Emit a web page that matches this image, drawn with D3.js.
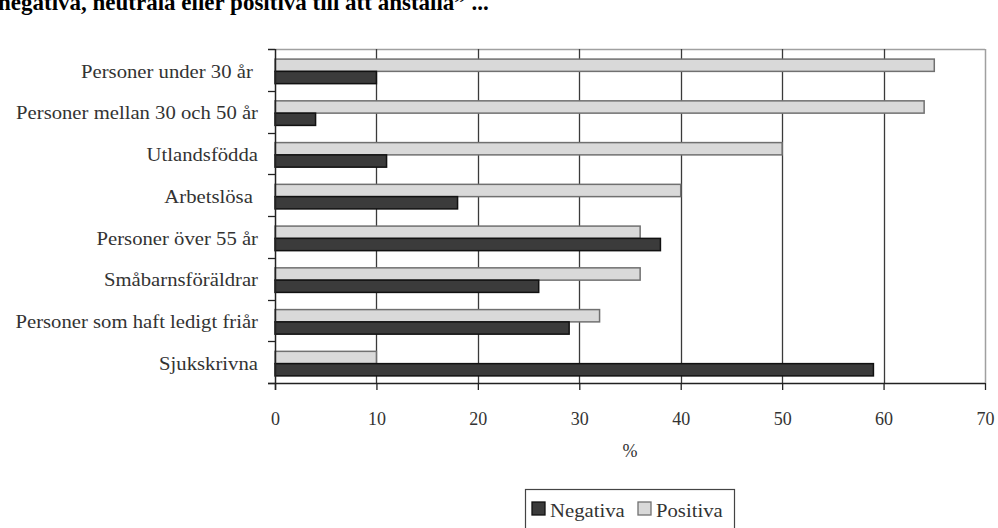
<!DOCTYPE html>
<html>
<head>
<meta charset="utf-8">
<script src="https://cdn.jsdelivr.net/npm/d3@7"></script>
<style>
  html, body { margin: 0; padding: 0; background: #fff; }
  svg { display: block; }
  text { font-family: "Liberation Serif", "Times New Roman", serif; fill: #222; }
</style>
</head>
<body>
<svg id="chart" width="998" height="528"></svg>
<script>
// Andel som är negativa / positiva till att anställa olika grupper (%)
const categories = [
  "Personer under 30 år ",
  "Personer mellan 30 och 50 år",
  "Utlandsfödda",
  "Arbetslösa ",
  "Personer över 55 år",
  "Småbarnsföräldrar",
  "Personer som haft ledigt friår",
  "Sjukskrivna"
];
const negativa = [10, 4, 11, 18, 38, 26, 29, 59];
const positiva = [65, 64, 50, 40, 36, 36, 32, 10];
const seriesNames = ["Positiva", "Negativa"];
const xTicks = [0, 10, 20, 30, 40, 50, 60, 70];
const titleText = "negativa, neutrala eller positiva till att anställa\u201D   ...";
const axisTitle = "%";

const SERIF = "Liberation Serif, Times New Roman, serif";
const STRETCH = 1.09; // glyphs are drawn slightly wide

const svg = d3.select("#chart");
const plot = { left: 275, right: 985, top: 49, bottom: 383 };

const x = d3.scaleLinear().domain([0, 70]).range([plot.left, plot.right]);
const y = d3.scaleBand().domain(categories).range([plot.top, plot.bottom]).padding(0);
const ySub = d3.scaleBand().domain(seriesNames).range([0, y.bandwidth()])
  .paddingInner(0).paddingOuter(0.7);

const fills = { Negativa: "#3b3b3b", Positiva: "#d9d9d9" };
const strokes = { Negativa: "#111", Positiva: "#707070" };

// place a text at (px, py) with a horizontal stretch
function placeText(sel, px, py) {
  sel.attr("x", 0).attr("y", 0)
    .attr("transform", (d, i) => {
      const tx = typeof px === "function" ? px(d, i) : px;
      const ty = typeof py === "function" ? py(d, i) : py;
      return `translate(${tx},${ty}) scale(${STRETCH},1)`;
    });
  return sel;
}

// Title (partly outside the top edge)
svg.append("text")
  .attr("x", -2).attr("y", 10)
  .attr("font-family", SERIF)
  .attr("font-size", 23).attr("font-weight", "bold")
  .style("fill", "#000")
  .text(titleText);

// Plot frame: top and right borders
svg.append("line")
  .attr("x1", plot.left - 7).attr("x2", plot.right)
  .attr("y1", plot.top + 0.5).attr("y2", plot.top + 0.5)
  .attr("stroke", "#a0a0a0").attr("stroke-width", 1.5);
svg.append("line")
  .attr("x1", plot.right + 0.5).attr("x2", plot.right + 0.5)
  .attr("y1", plot.top).attr("y2", plot.bottom)
  .attr("stroke", "#a0a0a0").attr("stroke-width", 1.5);

// Vertical gridlines
svg.append("g").selectAll("line")
  .data(xTicks.filter(d => d > 0 && d < 70))
  .join("line")
  .attr("x1", d => Math.round(x(d)) + 0.5).attr("x2", d => Math.round(x(d)) + 0.5)
  .attr("y1", plot.top).attr("y2", plot.bottom)
  .attr("stroke", "#3a3a3a").attr("stroke-width", 1.3);

// Bars
const groups = svg.append("g").selectAll("g")
  .data(categories.map((c, i) => ({ cat: c, Negativa: negativa[i], Positiva: positiva[i] })))
  .join("g")
  .attr("transform", d => `translate(0,${y(d.cat) + 1.5})`);

groups.selectAll("rect")
  .data(d => seriesNames.map(s => ({ s, v: d[s] })))
  .join("rect")
  .attr("x", x(0))
  .attr("y", d => ySub(d.s))
  .attr("width", d => x(d.v) - x(0))
  .attr("height", ySub.bandwidth())
  .attr("fill", d => fills[d.s])
  .attr("stroke", d => strokes[d.s])
  .attr("stroke-width", 1.5);

// X axis
const xAxis = d3.axisBottom(x).tickValues(xTicks).tickSize(7).tickPadding(22)
  .tickFormat(d3.format("d"));
const gx = svg.append("g").attr("transform", `translate(0,${plot.bottom})`).call(xAxis);
gx.attr("font-family", SERIF);
gx.select(".domain").remove();
gx.append("line")
  .attr("x1", plot.left - 7).attr("x2", plot.right)
  .attr("y1", 0.5).attr("y2", 0.5)
  .attr("stroke", "#222").attr("stroke-width", 1.5);
gx.selectAll(".tick line").attr("stroke", "#222").attr("stroke-width", 1.3);
gx.selectAll(".tick text")
  .attr("font-size", 18).attr("font-family", SERIF)
  .style("fill", "#333");

// Y axis: ticks on band boundaries, labels centred in each band
const gy = svg.append("g");
gy.append("line")
  .attr("x1", plot.left + 0.5).attr("x2", plot.left + 0.5)
  .attr("y1", plot.top).attr("y2", plot.bottom + 7)
  .attr("stroke", "#222").attr("stroke-width", 1.5);
gy.selectAll("line.tk")
  .data(d3.range(categories.length + 1))
  .join("line").attr("class", "tk")
  .attr("x1", plot.left - 7).attr("x2", plot.left)
  .attr("y1", i => Math.round(plot.top + i * y.step()) + 0.5)
  .attr("y2", i => Math.round(plot.top + i * y.step()) + 0.5)
  .attr("stroke", "#222").attr("stroke-width", 1.3);
gy.selectAll("text")
  .data(categories)
  .join("text")
  .call(placeText, 258, d => y(d) + y.bandwidth() / 2 + 1)
  .attr("dy", "0.35em")
  .attr("text-anchor", "end")
  .attr("font-family", SERIF)
  .attr("font-size", 19)
  .attr("xml:space", "preserve")
  .style("white-space", "pre")
  .style("fill", "#333")
  .text(d => d);

// Axis title
svg.append("text")
  .attr("x", 630).attr("y", 457)
  .attr("text-anchor", "middle")
  .attr("font-family", SERIF)
  .attr("font-size", 18)
  .style("fill", "#333")
  .text(axisTitle);

// Legend
const legend = svg.append("g");
legend.append("rect")
  .attr("x", 525.5).attr("y", 489.5).attr("width", 209).attr("height", 50)
  .attr("fill", "#fff").attr("stroke", "#444").attr("stroke-width", 1.2);
const legendItems = [
  { s: "Negativa", x: 532 },
  { s: "Positiva", x: 638 }
];
const li = legend.selectAll("g.item").data(legendItems).join("g").attr("class", "item")
  .attr("transform", d => `translate(${d.x},502)`);
li.append("rect")
  .attr("width", 13).attr("height", 13)
  .attr("fill", d => fills[d.s]).attr("stroke", d => strokes[d.s]).attr("stroke-width", 1.3);
li.append("text")
  .call(placeText, 18, 15)
  .attr("font-family", SERIF)
  .attr("font-size", 19)
  .style("fill", "#333")
  .text(d => d.s);
</script>
</body>
</html>
